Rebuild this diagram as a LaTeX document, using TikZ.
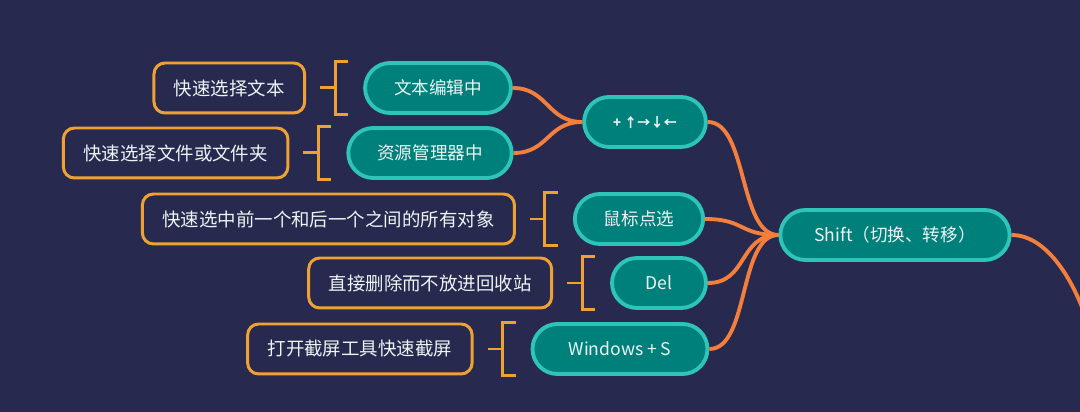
\documentclass[tikz,border=0pt]{standalone}
\usepackage{fontspec}
\setmainfont{Noto Sans CJK SC}
\usetikzlibrary{positioning,calc}

\definecolor{bgnavy}{HTML}{272A4E}
\definecolor{tealfill}{HTML}{00807A}
\definecolor{tealline}{HTML}{2EC4B6}
\definecolor{boxorange}{HTML}{EFA233}
\definecolor{linkorange}{HTML}{F47E3C}
\definecolor{txtwhite}{HTML}{EEF3F3}

\tikzset{
	key/.style={draw=tealline, fill=tealfill, line width=2.2pt, rounded corners=0.5cm,
		minimum height=1cm, inner xsep=0.58cm, text=txtwhite, font=\fontsize{10}{12}\selectfont},
	note/.style={draw=boxorange, line width=1.7pt, rounded corners=0.22cm,
		minimum height=1cm, inner xsep=0.4cm, text=txtwhite, font=\fontsize{10.5}{12}\selectfont},
	link/.style={draw=linkorange, line width=2.2pt},
	brace/.style={draw=boxorange, line width=1.7pt}
}

\begin{document}
\begin{tikzpicture}[x=0.02cm, y=0.02cm]
	
	\useasboundingbox (0,0) rectangle (1080,412);
	\fill[bgnavy] (0,0) rectangle (1080,412);
	\clip (0,0) rectangle (1080,412);
	
	% keys
	\node[key, inner xsep=0.68cm] (shift) at (895,177) {Shift（切换、转移）};
	\node[key, minimum width=2.4cm, font=\fontsize{7.5}{8}\selectfont\bfseries] (arrows) at (645,290) {+ ↑→↓←};
	\node[key] (edit) at (438,324) {文本编辑中};
	\node[key] (explorer) at (430,259) {资源管理器中};
	\node[key] (mouse) at (639,193) {鼠标点选};
	\node[key, minimum width=1.88cm] (del) at (659,129) {Del};
	\node[key, minimum width=3.5cm] (wins) at (620,63) {Windows + S};
	\coordinate (next) at (1090,82);
	
	% notes
	\node[note, left=1.14cm of edit] (editnote) {快速选择文本};
	\node[note, left=1.14cm of explorer] (explorernote) {快速选择文件或文件夹};
	\node[note, left=1.14cm of mouse] (mousenote) {快速选中前一个和后一个之间的所有对象};
	\node[note, left=1.14cm of del] (delnote) {直接删除而不放进回收站};
	\node[note, left=1.14cm of wins] (winsnote) {打开截屏工具快速截屏};
	
	% brackets
	\foreach \n in {edit,explorer,mouse,del,wins}
		\draw[brace] ($(\n.north west)+(-15,0)$) -| ($(\n.west)+(-28,0)$) |- ($(\n.south west)+(-15,0)$)
			($(\n.west)+(-28,0)$) -- ++(-15,0);
	
	% links
	\foreach \c in {arrows,mouse,del,wins}
		\draw[link] (shift.west) .. controls +(-40,0) and +(40,0) .. (\c.east);
	\foreach \c in {edit,explorer}
		\draw[link] (arrows.west) .. controls +(-35,0) and +(35,0) .. (\c.east);
	\draw[link] (shift.east) .. controls +(35,0) and +(-15,50) .. (next);
	
\end{tikzpicture}
\end{document}
